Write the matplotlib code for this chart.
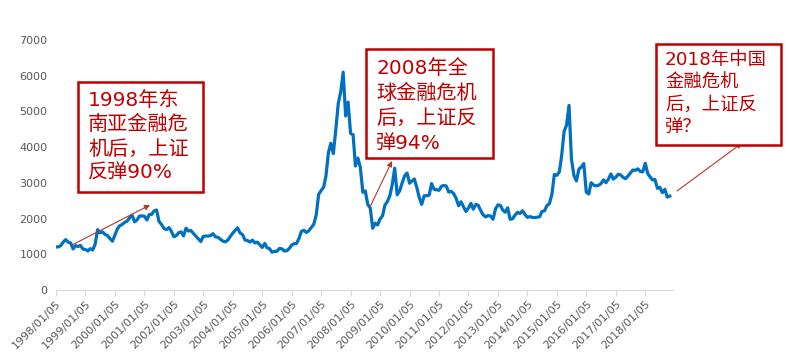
import numpy as np
import pandas as pd
import matplotlib
matplotlib.use('Agg')
from matplotlib import pyplot as plt
from matplotlib.patches import Rectangle

plt.rcParams['font.family'] = ['DejaVu Sans', 'Noto Sans CJK SC']

# monthly level of the Shanghai composite, Jan 1998 .. Nov 2018
sh_1998 = [1206, 1206, 1243, 1343, 1411, 1339, 1316, 1150, 1243, 1217, 1247, 1147]
sh_1999 = [1134, 1091, 1158, 1120, 1279, 1689, 1601, 1627, 1556, 1525, 1440, 1367]
sh_2000 = [1535, 1714, 1800, 1836, 1894, 1928, 2023, 2096, 1910, 1961, 2070, 2073]
sh_2001 = [2066, 1960, 2112, 2120, 2214, 2240, 1920, 1834, 1724, 1690, 1747, 1646]
sh_2002 = [1491, 1524, 1603, 1627, 1515, 1732, 1651, 1665, 1581, 1508, 1433, 1357]
sh_2003 = [1500, 1512, 1510, 1521, 1576, 1487, 1476, 1421, 1367, 1348, 1397, 1497]
sh_2004 = [1590, 1675, 1741, 1595, 1555, 1399, 1386, 1342, 1396, 1320, 1340, 1266]
sh_2005 = [1191, 1306, 1181, 1159, 1060, 1080, 1083, 1162, 1155, 1092, 1099, 1161]
sh_2006 = [1258, 1299, 1298, 1440, 1641, 1672, 1612, 1658, 1752, 1837, 2099, 2675]
sh_2007 = [2786, 2881, 3183, 3841, 4109, 3820, 4471, 5218, 5552, 6100, 4871, 5261]
sh_2008 = [4383, 4348, 3472, 3693, 3433, 2736, 2775, 2397, 2293, 1729, 1871, 1821]
sh_2009 = [1990, 2082, 2373, 2477, 2632, 2959, 3412, 2667, 2779, 2996, 3195, 3277]
sh_2010 = [2989, 3051, 3110, 2870, 2592, 2398, 2638, 2639, 2656, 2979, 2820, 2808]
sh_2011 = [2791, 2905, 2928, 2911, 2743, 2762, 2701, 2568, 2359, 2469, 2333, 2199]
sh_2012 = [2292, 2428, 2262, 2397, 2373, 2225, 2103, 2047, 2086, 2069, 1980, 2269]
sh_2013 = [2385, 2366, 2237, 2178, 2301, 1979, 1994, 2098, 2175, 2141, 2220, 2116]
sh_2014 = [2033, 2056, 2033, 2026, 2039, 2048, 2201, 2217, 2364, 2420, 2683, 3235]
sh_2015 = [3210, 3310, 3748, 4441, 4612, 5170, 3664, 3206, 3053, 3383, 3445, 3539]
sh_2016 = [2738, 2688, 3004, 2938, 2917, 2930, 2979, 3085, 3005, 3100, 3250, 3104]
sh_2017 = [3159, 3242, 3223, 3155, 3117, 3192, 3273, 3361, 3349, 3393, 3317, 3307]
sh_2018 = [3550, 3259, 3169, 3082, 3095, 2847, 2876, 2725, 2821, 2603, 2630]

values = (sh_1998 + sh_1999 + sh_2000 + sh_2001 + sh_2002 + sh_2003 + sh_2004
          + sh_2005 + sh_2006 + sh_2007 + sh_2008 + sh_2009 + sh_2010 + sh_2011
          + sh_2012 + sh_2013 + sh_2014 + sh_2015 + sh_2016 + sh_2017 + sh_2018)
dates = pd.date_range('1998-01-01', periods=len(values), freq='MS') + pd.Timedelta(days=4)

tick_dates = pd.date_range('1998-01-01', '2018-01-01', freq='YS') + pd.Timedelta(days=4)
tick_labels = [d.strftime('%Y/%m/%d') for d in tick_dates]

notes = [
    ['1998年东', '南亚金融危', '机后，上证', '反弹90%'],
    ['2008年全', '球金融危机', '后，上证反', '弹94%'],
    ['2018年中国', '金融危机', '后，上证反', '弹？'],
]

W, H = 789, 362
fig = plt.figure(figsize=(W/100, H/100), dpi=100)
ax = fig.add_axes([56/W, 1-290/H, (673-56)/W, 250/H])

ax.plot(dates, values, color='#0070c0', lw=2.3, solid_joinstyle='round')
ax.set_xlim(pd.Timestamp('1998-01-05'), pd.Timestamp('2018-12-15'))
ax.set_ylim(0, 7000)
ax.set_yticks(range(0, 7001, 1000))
ax.set_xticks(tick_dates)
ax.set_xticklabels(tick_labels, rotation=45, ha='right', rotation_mode='anchor')
ax.tick_params(axis='y', length=0, labelsize=8, labelcolor='#595959', pad=6)
ax.tick_params(axis='x', length=4, color='#d9d9d9', labelsize=8,
               labelcolor='#595959', pad=2)
for s in ['top', 'right', 'left']:
    ax.spines[s].set_visible(False)
ax.spines['bottom'].set_color('#d9d9d9')

# annotation boxes, figure pixels (left, top, right, bottom)
boxes = [(78, 82, 203, 192), (366, 49, 493, 158), (656, 44, 781, 145)]
text_pos = [(88, 100, 24.5, 14.5), (376, 68, 25, 14.5), (665, 60, 22.5, 13.2)]
red = '#c00000'
for (l, t, r, b), (tx, ty, dy, fs), lines in zip(boxes, text_pos, notes):
    fig.add_artist(Rectangle((l/W, 1-b/H), (r-l)/W, (b-t)/H, transform=fig.transFigure,
                             facecolor='white', edgecolor=red, lw=1.8, zorder=5))
    for i, s in enumerate(lines):
        fig.text(tx/W, 1-(ty+i*dy)/H, s, color=red, fontsize=fs, va='center',
                 ha='left', zorder=6)

arrows = [((72, 245), (150, 205)), ((370, 207), (392, 161)), ((677, 191), (742, 143))]
for (x0, y0), (x1, y1) in arrows:
    ax.annotate('', xy=(x1/W, 1-y1/H), xytext=(x0/W, 1-y0/H),
                xycoords='figure fraction', textcoords='figure fraction',
                arrowprops=dict(arrowstyle='-|>', color='#b03a2e', lw=0.8,
                                mutation_scale=8, shrinkA=0, shrinkB=0))

fig.savefig('out.png', dpi=100)
